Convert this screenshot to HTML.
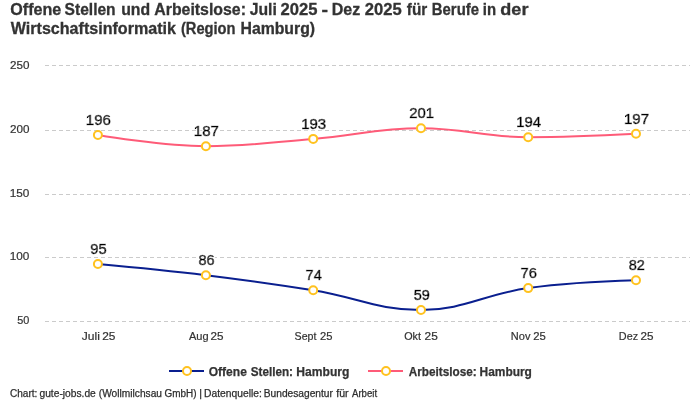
<!DOCTYPE html>
<html lang="de"><head><meta charset="utf-8"><title>Offene Stellen und Arbeitslose</title>
<style>
html,body{margin:0;padding:0;background:#fff;}
svg{display:block;font-family:"Liberation Sans", sans-serif;}
text{white-space:pre;}
.t{font-size:16px;font-weight:bold;fill:#333;stroke:#333;stroke-width:0.3px;}
.l{font-size:12px;font-weight:bold;fill:#333;stroke:#333;stroke-width:0.25px;}
.f{font-size:10px;fill:#2e2e2e;stroke:#2e2e2e;stroke-width:0.25px;}
.x,.y{font-size:11px;fill:#333;stroke:#333;stroke-width:0.2px;}
.d{font-size:14px;fill:#000;stroke:#000;stroke-width:0.7px;}
</style></head><body>
<svg width="700" height="400" viewBox="0 0 700 400">
<defs><filter id="halo" x="-20%" y="-20%" width="140%" height="140%"><feMorphology in="SourceAlpha" operator="dilate" radius="1" result="d"/><feFlood flood-color="#fff"/><feComposite in2="d" operator="in" result="h"/><feMerge><feMergeNode in="h"/><feMergeNode in="SourceGraphic"/></feMerge></filter></defs>
<rect width="700" height="400" fill="#fff"/>
<path d="M45 65.5 H690" stroke="#cbcbcb" stroke-width="1" stroke-dasharray="4 3" fill="none"/>
<path d="M45 130.5 H690" stroke="#cbcbcb" stroke-width="1" stroke-dasharray="4 3" fill="none"/>
<path d="M45 194.5 H690" stroke="#cbcbcb" stroke-width="1" stroke-dasharray="4 3" fill="none"/>
<path d="M45 257.5 H690" stroke="#cbcbcb" stroke-width="1" stroke-dasharray="4 3" fill="none"/>
<path d="M45 321.5 H690" stroke="#cbcbcb" stroke-width="1" stroke-dasharray="4 3" fill="none"/>
<path d="M 97.90 264.00 C 97.90 264.00 162.70 269.92 205.90 275.20 C 248.82 280.44 270.28 283.36 313.20 290.30 C 356.32 297.28 377.88 310.00 421.00 310.00 C 463.88 310.00 485.32 294.02 528.20 288.10 C 571.32 282.14 636.00 280.30 636.00 280.30" fill="none" stroke="#0a1f8f" stroke-width="2" stroke-linejoin="round" stroke-linecap="round"/>
<circle cx="97.9" cy="264.0" r="4" fill="#fff" stroke="#ffc21f" stroke-width="2"/>
<circle cx="205.9" cy="275.2" r="4" fill="#fff" stroke="#ffc21f" stroke-width="2"/>
<circle cx="313.2" cy="290.3" r="4" fill="#fff" stroke="#ffc21f" stroke-width="2"/>
<circle cx="421.0" cy="310.0" r="4" fill="#fff" stroke="#ffc21f" stroke-width="2"/>
<circle cx="528.2" cy="288.1" r="4" fill="#fff" stroke="#ffc21f" stroke-width="2"/>
<circle cx="636.0" cy="280.3" r="4" fill="#fff" stroke="#ffc21f" stroke-width="2"/>
<path d="M 97.90 135.00 C 97.90 135.00 162.70 146.20 205.90 146.20 C 248.82 146.20 270.28 142.49 313.20 138.90 C 356.32 135.29 377.88 128.20 421.00 128.20 C 463.88 128.20 485.32 137.20 528.20 137.20 C 571.32 137.20 636.00 133.80 636.00 133.80" fill="none" stroke="#fe5b78" stroke-width="2" stroke-linejoin="round" stroke-linecap="round"/>
<circle cx="97.9" cy="135.0" r="4" fill="#fff" stroke="#ffc21f" stroke-width="2"/>
<circle cx="205.9" cy="146.2" r="4" fill="#fff" stroke="#ffc21f" stroke-width="2"/>
<circle cx="313.2" cy="138.9" r="4" fill="#fff" stroke="#ffc21f" stroke-width="2"/>
<circle cx="421.0" cy="128.2" r="4" fill="#fff" stroke="#ffc21f" stroke-width="2"/>
<circle cx="528.2" cy="137.2" r="4" fill="#fff" stroke="#ffc21f" stroke-width="2"/>
<circle cx="636.0" cy="133.8" r="4" fill="#fff" stroke="#ffc21f" stroke-width="2"/>
<path d="M169 371 H204" stroke="#0a1f8f" stroke-width="2" fill="none"/>
<circle cx="187" cy="371" r="4" fill="#fff" stroke="#ffc21f" stroke-width="2"/>
<path d="M368 371 H403" stroke="#fe5b78" stroke-width="2" fill="none"/>
<circle cx="386" cy="371" r="4" fill="#fff" stroke="#ffc21f" stroke-width="2"/>
<text class="t" y="15.0" lengthAdjust="spacingAndGlyphs"><tspan x="10.30" textLength="51.00" lengthAdjust="spacingAndGlyphs">Offene</tspan> <tspan x="64.56" textLength="51.10" lengthAdjust="spacingAndGlyphs">Stellen</tspan> <tspan x="121.16" textLength="28.95" lengthAdjust="spacingAndGlyphs">und</tspan> <tspan x="154.25" textLength="91.66" lengthAdjust="spacingAndGlyphs">Arbeitslose:</tspan> <tspan x="249.70" textLength="27.13" lengthAdjust="spacingAndGlyphs">Juli</tspan> <tspan x="280.58" textLength="36.93" lengthAdjust="spacingAndGlyphs">2025</tspan> <tspan x="321.59" textLength="6.52" lengthAdjust="spacingAndGlyphs">-</tspan> <tspan x="331.80" textLength="28.50" lengthAdjust="spacingAndGlyphs">Dez</tspan> <tspan x="364.88" textLength="36.93" lengthAdjust="spacingAndGlyphs">2025</tspan> <tspan x="406.86" textLength="20.46" lengthAdjust="spacingAndGlyphs">für</tspan> <tspan x="431.87" textLength="47.10" lengthAdjust="spacingAndGlyphs">Berufe</tspan> <tspan x="482.77" textLength="13.25" lengthAdjust="spacingAndGlyphs">in</tspan> <tspan x="500.34" textLength="28.12" lengthAdjust="spacingAndGlyphs">der</tspan></text>
<text class="t" y="34.0" lengthAdjust="spacingAndGlyphs"><tspan x="10.80" textLength="165.10" lengthAdjust="spacingAndGlyphs">Wirtschaftsinformatik</tspan> <tspan x="180.91" textLength="54.60" lengthAdjust="spacingAndGlyphs">(Region</tspan> <tspan x="240.51" textLength="74.56" lengthAdjust="spacingAndGlyphs">Hamburg)</tspan></text>
<text class="l" y="375.6" lengthAdjust="spacingAndGlyphs"><tspan x="208.72" textLength="38.18" lengthAdjust="spacingAndGlyphs">Offene</tspan> <tspan x="250.72" textLength="42.25" lengthAdjust="spacingAndGlyphs">Stellen:</tspan> <tspan x="296.34" textLength="53.03" lengthAdjust="spacingAndGlyphs">Hamburg</tspan></text>
<text class="l" y="375.6" lengthAdjust="spacingAndGlyphs"><tspan x="408.72" textLength="67.96" lengthAdjust="spacingAndGlyphs">Arbeitslose:</tspan> <tspan x="479.56" textLength="52.31" lengthAdjust="spacingAndGlyphs">Hamburg</tspan></text>
<text class="f" y="397.1" lengthAdjust="spacingAndGlyphs"><tspan x="10.03" textLength="27.38" lengthAdjust="spacingAndGlyphs">Chart:</tspan> <tspan x="39.48" textLength="56.33" lengthAdjust="spacingAndGlyphs">gute-jobs.de</tspan> <tspan x="98.82" textLength="63.15" lengthAdjust="spacingAndGlyphs">(Wollmilchsau</tspan> <tspan x="164.53" textLength="31.98" lengthAdjust="spacingAndGlyphs">GmbH)</tspan> <tspan x="199.27" textLength="2.77" lengthAdjust="spacingAndGlyphs">|</tspan> <tspan x="204.10" textLength="57.73" lengthAdjust="spacingAndGlyphs">Datenquelle:</tspan> <tspan x="263.80" textLength="69.15" lengthAdjust="spacingAndGlyphs">Bundesagentur</tspan> <tspan x="336.30" textLength="12.35" lengthAdjust="spacingAndGlyphs">für</tspan> <tspan x="352.00" textLength="25.07" lengthAdjust="spacingAndGlyphs">Arbeit</tspan></text>
<text class="x" y="340.1" lengthAdjust="spacingAndGlyphs"><tspan x="81.81" textLength="18.08" lengthAdjust="spacingAndGlyphs">Juli</tspan> <tspan x="102.24" textLength="13.24" lengthAdjust="spacingAndGlyphs">25</tspan></text>
<text class="x" y="340.1" lengthAdjust="spacingAndGlyphs"><tspan x="189.00" textLength="19.62" lengthAdjust="spacingAndGlyphs">Aug</tspan> <tspan x="210.45" textLength="13.02" lengthAdjust="spacingAndGlyphs">25</tspan></text>
<text class="x" y="340.1" lengthAdjust="spacingAndGlyphs"><tspan x="294.57" textLength="21.90" lengthAdjust="spacingAndGlyphs">Sept</tspan> <tspan x="320.07" textLength="12.48" lengthAdjust="spacingAndGlyphs">25</tspan></text>
<text class="x" y="340.1" lengthAdjust="spacingAndGlyphs"><tspan x="404.19" textLength="16.77" lengthAdjust="spacingAndGlyphs">Okt</tspan> <tspan x="424.54" textLength="13.24" lengthAdjust="spacingAndGlyphs">25</tspan></text>
<text class="x" y="340.1" lengthAdjust="spacingAndGlyphs"><tspan x="510.84" textLength="19.56" lengthAdjust="spacingAndGlyphs">Nov</tspan> <tspan x="533.27" textLength="12.59" lengthAdjust="spacingAndGlyphs">25</tspan></text>
<text class="x" y="340.1" lengthAdjust="spacingAndGlyphs"><tspan x="618.85" textLength="19.25" lengthAdjust="spacingAndGlyphs">Dez</tspan> <tspan x="640.45" textLength="13.02" lengthAdjust="spacingAndGlyphs">25</tspan></text>
<text class="y" y="69.0" lengthAdjust="spacingAndGlyphs"><tspan x="9.95" textLength="19.44" lengthAdjust="spacingAndGlyphs">250</tspan></text>
<text class="y" y="133.0" lengthAdjust="spacingAndGlyphs"><tspan x="9.95" textLength="19.44" lengthAdjust="spacingAndGlyphs">200</tspan></text>
<text class="y" y="197.0" lengthAdjust="spacingAndGlyphs"><tspan x="9.76" textLength="19.63" lengthAdjust="spacingAndGlyphs">150</tspan></text>
<text class="y" y="260.0" lengthAdjust="spacingAndGlyphs"><tspan x="9.76" textLength="19.63" lengthAdjust="spacingAndGlyphs">100</tspan></text>
<text class="y" y="324.0" lengthAdjust="spacingAndGlyphs"><tspan x="17.26" textLength="12.11" lengthAdjust="spacingAndGlyphs">50</tspan></text>
<text class="d" y="124.7" lengthAdjust="spacingAndGlyphs" filter="url(#halo)"><tspan x="85.86" textLength="25.05" lengthAdjust="spacingAndGlyphs">196</tspan></text>
<text class="d" y="135.9" lengthAdjust="spacingAndGlyphs" filter="url(#halo)"><tspan x="193.86" textLength="25.05" lengthAdjust="spacingAndGlyphs">187</tspan></text>
<text class="d" y="128.6" lengthAdjust="spacingAndGlyphs" filter="url(#halo)"><tspan x="301.16" textLength="25.05" lengthAdjust="spacingAndGlyphs">193</tspan></text>
<text class="d" y="117.9" lengthAdjust="spacingAndGlyphs" filter="url(#halo)"><tspan x="409.20" textLength="24.80" lengthAdjust="spacingAndGlyphs">201</tspan></text>
<text class="d" y="126.9" lengthAdjust="spacingAndGlyphs" filter="url(#halo)"><tspan x="516.17" textLength="24.80" lengthAdjust="spacingAndGlyphs">194</tspan></text>
<text class="d" y="123.5" lengthAdjust="spacingAndGlyphs" filter="url(#halo)"><tspan x="623.96" textLength="25.05" lengthAdjust="spacingAndGlyphs">197</tspan></text>
<text class="d" y="253.7" lengthAdjust="spacingAndGlyphs" filter="url(#halo)"><tspan x="90.31" textLength="16.39" lengthAdjust="spacingAndGlyphs">95</tspan></text>
<text class="d" y="264.9" lengthAdjust="spacingAndGlyphs" filter="url(#halo)"><tspan x="198.55" textLength="16.14" lengthAdjust="spacingAndGlyphs">86</tspan></text>
<text class="d" y="280.0" lengthAdjust="spacingAndGlyphs" filter="url(#halo)"><tspan x="305.62" textLength="16.14" lengthAdjust="spacingAndGlyphs">74</tspan></text>
<text class="d" y="299.7" lengthAdjust="spacingAndGlyphs" filter="url(#halo)"><tspan x="413.65" textLength="16.14" lengthAdjust="spacingAndGlyphs">59</tspan></text>
<text class="d" y="277.8" lengthAdjust="spacingAndGlyphs" filter="url(#halo)"><tspan x="520.61" textLength="16.39" lengthAdjust="spacingAndGlyphs">76</tspan></text>
<text class="d" y="270.0" lengthAdjust="spacingAndGlyphs" filter="url(#halo)"><tspan x="628.65" textLength="16.14" lengthAdjust="spacingAndGlyphs">82</tspan></text>
</svg>
</body></html>
